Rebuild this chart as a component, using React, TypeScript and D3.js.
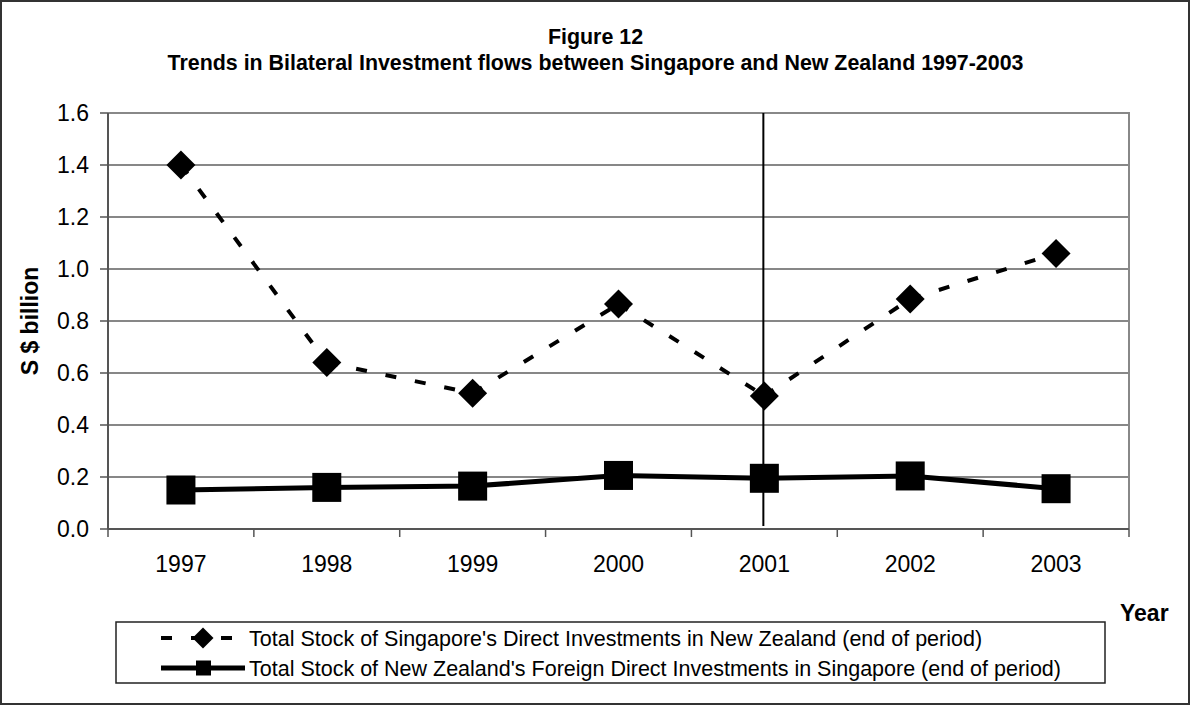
import React from "react";
import * as d3 from "d3";

// values (S$ billion, end of period)
const years = ["1997", "1998", "1999", "2000", "2001", "2002", "2003"];
const sgInNz = [1.4, 0.64, 0.522, 0.865, 0.512, 0.885, 1.06];
const nzInSg = [0.15, 0.16, 0.165, 0.206, 0.195, 0.204, 0.155];
const yTicks = [0, 0.2, 0.4, 0.6, 0.8, 1.0, 1.2, 1.4, 1.6];
const markedYear = "2001";

const titleLines = [
  "Figure 12",
  "Trends in Bilateral Investment flows between Singapore and New Zealand 1997-2003",
];
const seriesNames = [
  "Total Stock of Singapore's Direct Investments in New Zealand (end of period)",
  "Total Stock of New Zealand's Foreign Direct Investments in Singapore (end of period)",
];

const W = 1191;
const H = 706;
const margin = { top: 113, right: 62, bottom: 177, left: 108 };
const FONT = "'Liberation Sans', Arial, sans-serif";

export default function App() {
  const x = d3
    .scaleBand<string>()
    .domain(years)
    .range([margin.left, W - margin.right]);
  const y = d3
    .scaleLinear()
    .domain([0, 1.6])
    .range([H - margin.bottom, margin.top]);

  const cx = (yr: string) => (x(yr) as number) + x.bandwidth() / 2;
  const plotBottom = H - margin.bottom;
  const plotRight = W - margin.right;

  // Excel draws each dashed segment on its own, so the pattern restarts at every point
  const segments = years.slice(1).map((yr, i) => ({
    x1: cx(years[i]),
    y1: y(sgInNz[i]),
    x2: cx(yr),
    y2: y(sgInNz[i + 1]),
  }));
  const solidLine = d3
    .line<number>()
    .x((_, i) => cx(years[i]))
    .y((d) => y(d));

  const diamond = (px: number, py: number, r: number) =>
    `M${px},${py - r}L${px + r},${py}L${px},${py + r}L${px - r},${py}Z`;

  const legend = { x: 116, y: 622, w: 989, h: 61 };

  return (
    <svg
      width={W}
      height={H}
      style={{ position: "absolute", left: 0, top: 0, background: "#fff" }}
      fontFamily={FONT}
    >
      <rect x={1} y={1} width={W - 3} height={H - 3} fill="#fff" stroke="#333" strokeWidth={2} />

      {/* title */}
      {titleLines.map((t, i) => (
        <text
          key={t}
          x={W / 2}
          y={44 + i * 26}
          textAnchor="middle"
          fontWeight="bold"
          fontSize={21.4}
        >
          {t}
        </text>
      ))}

      {/* gridlines */}
      {yTicks.slice(1, -1).map((t) => (
        <line key={t} x1={margin.left} x2={plotRight} y1={y(t)} y2={y(t)} stroke="#111" strokeWidth={1.2} />
      ))}
      {/* plot border (top / right) */}
      <path
        d={`M${margin.left},${y(1.6)}H${plotRight}V${plotBottom}`}
        fill="none"
        stroke="#888"
        strokeWidth={2}
      />

      {/* y axis */}
      <line x1={margin.left} x2={margin.left} y1={margin.top} y2={plotBottom} stroke="#555" strokeWidth={2} />
      {yTicks.map((t) => (
        <g key={t}>
          <line x1={margin.left - 8} x2={margin.left} y1={y(t)} y2={y(t)} stroke="#555" strokeWidth={1.5} />
          <text x={89} y={y(t)} dy="0.36em" textAnchor="end" fontSize={23}>
            {d3.format(".1f")(t)}
          </text>
        </g>
      ))}
      <text
        transform={`translate(30,${(margin.top + plotBottom) / 2}) rotate(-90)`}
        textAnchor="middle"
        dy="0.36em"
        fontWeight="bold"
        fontSize={23}
      >
        S $ billion
      </text>

      {/* x axis */}
      <line x1={margin.left} x2={plotRight} y1={plotBottom} y2={plotBottom} stroke="#555" strokeWidth={2} />
      {years.concat(["end"]).map((yr, i) => {
        const px = i < years.length ? (x(yr) as number) : plotRight;
        return <line key={yr} x1={px} x2={px} y1={plotBottom} y2={plotBottom + 8} stroke="#555" strokeWidth={1.5} />;
      })}
      {years.map((yr) => (
        <text key={yr} x={cx(yr)} y={572} textAnchor="middle" fontSize={23}>
          {yr}
        </text>
      ))}
      <text x={1120} y={621} fontWeight="bold" fontSize={23}>
        Year
      </text>

      {/* vertical marker at 2001 */}
      <line
        x1={cx(markedYear) - 1}
        x2={cx(markedYear) - 1}
        y1={margin.top}
        y2={plotBottom - 3}
        stroke="#000"
        strokeWidth={2}
      />

      {/* Singapore -> NZ, dashed with diamonds */}
      {segments.map((s, i) => (
        <line
          key={i}
          {...s}
          stroke="#000"
          strokeWidth={4}
          strokeDasharray="11 19"
        />
      ))}
      {sgInNz.map((v, i) => (
        <path key={i} d={diamond(cx(years[i]), y(v), 14.5)} fill="#000" />
      ))}

      {/* NZ -> Singapore, solid with squares */}
      <path d={solidLine(nzInSg) ?? ""} fill="none" stroke="#000" strokeWidth={5} />
      {nzInSg.map((v, i) => (
        <rect key={i} x={cx(years[i]) - 14.5} y={y(v) - 14.5} width={29} height={29} fill="#000" />
      ))}

      {/* legend */}
      <rect
        x={legend.x}
        y={legend.y}
        width={legend.w}
        height={legend.h}
        fill="#fff"
        stroke="#222"
        strokeWidth={1.5}
      />
      {seriesNames.map((name, i) => {
        const ly = legend.y + 16 + i * 30;
        return (
          <g key={name}>
            {i === 0 ? (
              <>
                <line x1={161} x2={245} y1={ly} y2={ly} stroke="#000" strokeWidth={4} strokeDasharray="11 19" />
                <path d={diamond(203, ly, 10.5)} fill="#000" />
              </>
            ) : (
              <>
                <line x1={161} x2={245} y1={ly} y2={ly} stroke="#000" strokeWidth={5} />
                <rect x={196} y={ly - 7.5} width={15} height={15} fill="#000" />
              </>
            )}
            <text x={249} y={ly} dy="0.36em" fontSize={21.5}>
              {name}
            </text>
          </g>
        );
      })}
    </svg>
  );
}
